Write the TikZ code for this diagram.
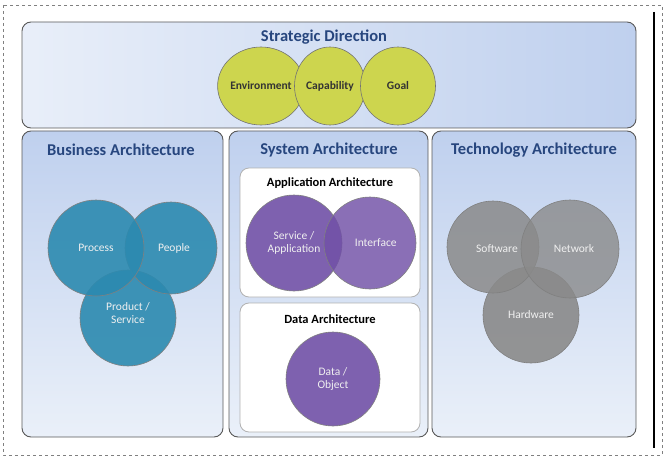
\documentclass[tikz,border=0pt]{standalone}
\usepackage{fontspec}
\setmainfont{Carlito}
\usepackage{xcolor}
\usetikzlibrary{shapes.geometric,positioning,fit,backgrounds}

\definecolor{paneltop}{HTML}{BFD0EE}
\definecolor{panelbot}{HTML}{EAF0F9}
\definecolor{titleblue}{HTML}{27467E}
\definecolor{tealc}{HTML}{2C8AB0}
\definecolor{purplec}{HTML}{7150A7}
\definecolor{grayc}{HTML}{8A8A8A}
\definecolor{yellowc}{HTML}{CDD54E}

\begin{document}
\begin{tikzpicture}[
        x=1pt, y=-1pt,
        panel/.style={draw=gray!70!black, line width=0.9pt, rounded corners=9pt, top color=paneltop, bottom color=panelbot},
        subpanel/.style={draw=gray!60, line width=0.8pt, rounded corners=9pt, fill=white},
        heading/.style={font=\bfseries\fontsize{16.5}{18}\selectfont, text=titleblue},
        subheading/.style={font=\bfseries\fontsize{12.5}{14}\selectfont, text=black},
        bubble/.style={circle, draw=black!50, line width=0.6pt, fill opacity=0.9, text opacity=1, align=center, text=white!88!gray, font=\fontsize{11.5}{13.5}\selectfont, inner sep=0pt},
        bubbletext/.style={font=\fontsize{11.5}{13.5}\selectfont, text=white!88!gray, align=center},
        goalbubble/.style={ellipse, draw=black!55, line width=0.6pt, fill=yellowc, minimum width=75pt, minimum height=78pt, inner sep=0pt, font=\bfseries\fontsize{11.5}{13}\selectfont, text=black!80}
    ]
        \useasboundingbox (0,0) rectangle (665,460);
        % Frame
        \draw[gray, dashed, line width=0.8pt] (3,5) rectangle (662,455);
        \draw[black, line width=1.6pt] (654,12) -- (654,448);

        % Strategic Direction
        \shade[left color=paneltop!35!white, right color=paneltop, rounded corners=9pt] (22,22) rectangle (636,128);
        \draw[gray!70!black, line width=0.9pt, rounded corners=9pt] (22,22) rectangle (636,128);
        \node[heading] (strategic) at (324,37) {Strategic Direction};
        \node[goalbubble] (environment) at (261,86) {Environment};
        \node[goalbubble, minimum width=71pt] (capability) at (330,86) {Capability};
        \node[goalbubble] (goal) at (398,86) {Goal};

        % Business Architecture
        \draw[panel] (22,131) rectangle (223,437);
        \node[heading] (business) at (121,150) {Business Architecture};
        \node[bubble, fill=tealc, minimum size=96pt] (product) at (128,318) {};
        \node[bubble, fill=tealc, minimum size=92pt] (people) at (171,248) {};
        \node[bubble, fill=tealc, minimum size=96pt] (process) at (96,248) {};
        \node[bubbletext] (processtext) at (process) {Process};
        \node[bubbletext] (peopletext) at (174,248) {People};
        \node[bubbletext] (producttext) at (128,313) {Product /\\Service};

        % System Architecture
        \draw[panel] (229,131) rectangle (428,437);
        \node[heading] (system) at (329,150) {System Architecture};
        \draw[subpanel] (240,168) rectangle (420,297);
        \node[subheading] (application) at (330,183) {Application Architecture};
        \node[bubble, fill=purplec, minimum size=96pt] (service) at (294,243) {Service /\\Application};
        \node[bubble, fill=purplec, minimum size=92pt, fill opacity=0.82] (interface) at (370,243) {\quad Interface};
        \draw[subpanel] (240,303) rectangle (420,432);
        \node[subheading] (data) at (330,319) {Data Architecture};
        \node[bubble, fill=purplec, minimum size=94pt] (object) at (333,379) {Data /\\Object};

        % Technology Architecture
        \draw[panel] (432,131) rectangle (636,437);
        \node[heading] (technology) at (534,150) {Technology Architecture};
        \node[bubble, fill=grayc, minimum size=96pt] (hardware) at (531,315) {Hardware};
        \node[bubble, fill=grayc, minimum size=92pt, fill opacity=0.85] (software) at (493,247) {};
        \node[bubble, fill=grayc, minimum size=98pt, fill opacity=0.8] (network) at (570,249) {};
        \node[bubbletext] (softwaretext) at (497,249) {Software};
        \node[bubbletext] (networktext) at (574,249) {Network};
    \end{tikzpicture}
\end{document}
